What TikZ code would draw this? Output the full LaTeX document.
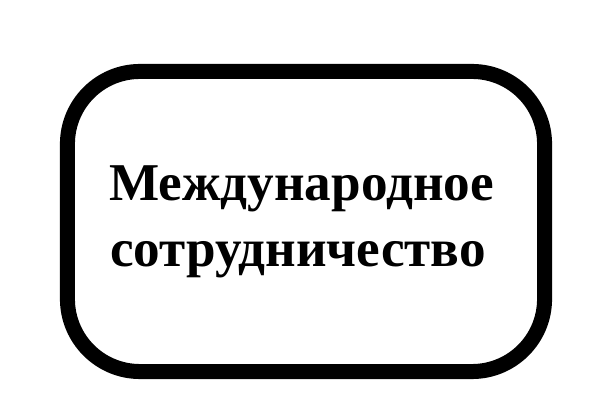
\documentclass[tikz,border=0pt]{standalone}
\usepackage{fontspec}
\setmainfont{Liberation Serif}
\usetikzlibrary{positioning}

\begin{document}
\begin{tikzpicture}[
	x=0.025cm, y=0.025cm,
	all node/.style={outer sep=0pt},
	card/.style={draw=black, line width=10.67pt, rounded corners=51.6pt,
		minimum width=339.3pt, minimum height=213.4pt, inner sep=0pt},
	label/.style={anchor=base, inner sep=0pt,
		font=\bfseries\fontsize{37.8}{42}\selectfont}
	]
		\useasboundingbox (0,0) rectangle (600,420);
		\node[card]		(box)		at	(306,198.5)		{};
		\node[label]	(titleone)	at	(301.5,219)		{Международное};
		\node[label]	(titletwo)	at	(298,153)		{сотрудничество};
	\end{tikzpicture}
\end{document}
